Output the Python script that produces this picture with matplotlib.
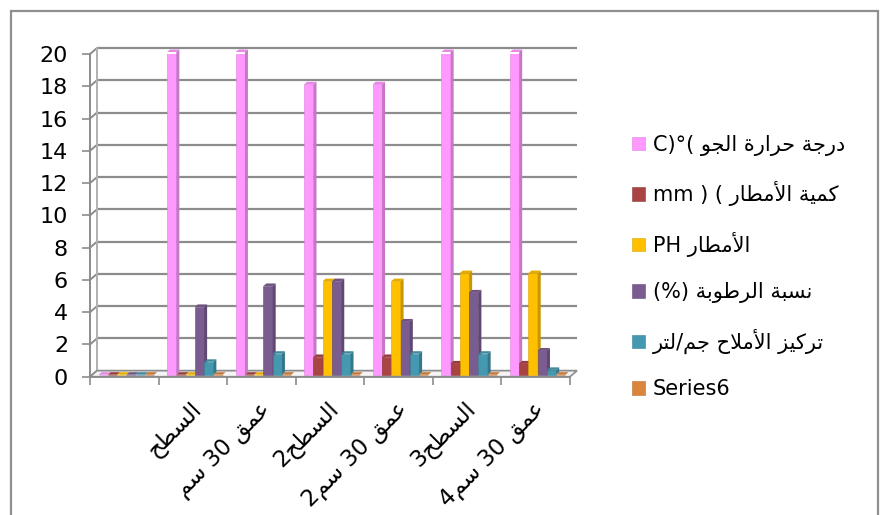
import re
import numpy as np
import matplotlib
matplotlib.use("Agg")
import matplotlib.pyplot as plt
import matplotlib.colors as mcolors
from matplotlib.patches import Polygon, Rectangle
from matplotlib.transforms import ScaledTranslation

plt.rcParams['font.family'] = ['DejaVu Sans']

# ---- data ----
categories = ["", "السطح", "عمق 30 سم", "السطح2", "عمق 30 سم2", "السطح3", "عمق 30 سم4"]
series_names = ["درجة حرارة الجو", "كمية الأمطار", "الأمطار", "نسبة الرطوبة",
                "تركيز الأملاح جم/لتر", "Series6"]
series_units = ["C)°(", "mm ) (", "PH", "(%)", "", ""]
temp = [0, 20, 20, 18, 18, 20, 20]
rain = [0, 0, 0, 1.1, 1.1, 0.7, 0.7]
rain_ph = [0, 0, 0, 5.8, 5.8, 6.3, 6.3]
humidity = [0, 4.2, 5.5, 5.8, 3.3, 5.1, 1.5]
salts = [0, 0.8, 1.3, 1.3, 1.3, 1.3, 0.3]
series6 = [0, 0, 0, 0, 0, 0, 0]
y_ticks = list(range(0, 21, 2))

series = [temp, rain, rain_ph, humidity, salts, series6]
colors = ['#FF99FF', '#A84442', '#FFC000', '#7A5C91', '#4499B1', '#DB843D']

# ---- minimal arabic shaping (presentation forms) + visual order ----
FORMS = {
    'ا': ('\uFE8D', '\uFE8E', None, None),
    'أ': ('\uFE83', '\uFE84', None, None),
    'ب': ('\uFE8F', '\uFE90', '\uFE91', '\uFE92'),
    'ة': ('\uFE93', '\uFE94', None, None),
    'ت': ('\uFE95', '\uFE96', '\uFE97', '\uFE98'),
    'ج': ('\uFE9D', '\uFE9E', '\uFE9F', '\uFEA0'),
    'ح': ('\uFEA1', '\uFEA2', '\uFEA3', '\uFEA4'),
    'د': ('\uFEA9', '\uFEAA', None, None),
    'ر': ('\uFEAD', '\uFEAE', None, None),
    'ز': ('\uFEAF', '\uFEB0', None, None),
    'س': ('\uFEB1', '\uFEB2', '\uFEB3', '\uFEB4'),
    'ط': ('\uFEC1', '\uFEC2', '\uFEC3', '\uFEC4'),
    'ع': ('\uFEC9', '\uFECA', '\uFECB', '\uFECC'),
    'ق': ('\uFED5', '\uFED6', '\uFED7', '\uFED8'),
    'ك': ('\uFED9', '\uFEDA', '\uFEDB', '\uFEDC'),
    'ل': ('\uFEDD', '\uFEDE', '\uFEDF', '\uFEE0'),
    'م': ('\uFEE1', '\uFEE2', '\uFEE3', '\uFEE4'),
    'ن': ('\uFEE5', '\uFEE6', '\uFEE7', '\uFEE8'),
    'و': ('\uFEED', '\uFEEE', None, None),
    'ي': ('\uFEF1', '\uFEF2', '\uFEF3', '\uFEF4'),
}
LAM_ALEF = {'ا': ('\uFEFB', '\uFEFC'), 'أ': ('\uFEF7', '\uFEF8')}


def shape(text):
    units = []
    i = 0
    while i < len(text):
        c = text[i]
        if c == 'ل' and i + 1 < len(text) and text[i + 1] in LAM_ALEF:
            units.append(('LA', text[i + 1]))
            i += 2
        else:
            units.append((c, None))
            i += 1
    out = []
    for k, (c, a) in enumerate(units):
        prev = units[k - 1][0] if k > 0 else None
        nxt = units[k + 1][0] if k + 1 < len(units) else None
        join_prev = prev in FORMS and FORMS[prev][2] is not None
        if c == 'LA':
            out.append(LAM_ALEF[a][1] if join_prev else LAM_ALEF[a][0])
            continue
        if c not in FORMS:
            out.append(c)
            continue
        iso, fin, ini, med = FORMS[c]
        join_next = ini is not None and (nxt == 'LA' or nxt in FORMS)
        if join_prev and join_next:
            out.append(med)
        elif join_prev:
            out.append(fin)
        elif join_next:
            out.append(ini)
        else:
            out.append(iso)
    return ''.join(out)


def rtl(text):
    tokens = re.findall(r'[0-9A-Za-z.]+|.', shape(text))
    return ''.join(reversed(tokens))


# ---- layout (pixels) ----
W, H = 881, 515
fig = plt.figure(figsize=(W / 100, H / 100), dpi=100)
x0, x1, y0, y1 = 90, 570, 376.7, 54
ax = fig.add_axes([x0 / W, 1 - y0 / H, (x1 - x0) / W, (y0 - y1) / H])
n = len(categories)
ax.set_xlim(0, n)
ax.set_ylim(0, 20)
sx = (x1 - x0) / n
sy = (y0 - y1) / 20

grid_c = '#8C8C8C'
bdx, bdy = 7 / sx, 6 / sy          # back wall offset
fdx, fdy = 2 / sx, 2 / sy          # bar front offset
ddx, ddy = 3 / sx, 2.5 / sy        # bar depth

# floor
ax.add_patch(Polygon([(0, 0), (n, 0), (n + bdx, bdy), (bdx, bdy)], closed=True,
                     facecolor='#F4F4F4', edgecolor=grid_c, lw=1.2,
                     clip_on=False, zorder=1))
# back wall grid and left wall
for v in y_ticks:
    ax.plot([bdx, n + bdx], [v + bdy, v + bdy], color=grid_c, lw=1.6,
            clip_on=False, zorder=0.5, solid_capstyle='butt')
    ax.plot([0, bdx], [v, v + bdy], color=grid_c, lw=1.4, clip_on=False, zorder=0.5)
ax.plot([bdx, bdx], [bdy, 20 + bdy], color='#B0B0B0', lw=1.4, clip_on=False, zorder=0.5)


def shade(c, f):
    r, g, b = mcolors.to_rgb(c)
    if f < 1:
        return (r * f, g * f, b * f)
    return (r + (1 - r) * (f - 1), g + (1 - g) * (f - 1), b + (1 - b) * (f - 1))


ns = len(series)
w = 0.135
centers = np.arange(n) + 0.5
for s, (vals, col) in enumerate(zip(series, colors)):
    label = (series_units[s] + " " if series_units[s] else "") + rtl(series_names[s])
    xl = centers - ns * w / 2 + s * w + fdx
    z = 2 + s
    ax.bar(xl, vals, width=w, bottom=fdy, align='edge', color=col,
           edgecolor=shade(col, 0.85), lw=0.4, label=label, zorder=z)
    for xi, v in zip(xl, vals):
        top = fdy + v
        ax.add_patch(Polygon([(xi + w, fdy), (xi + w + ddx, fdy + ddy),
                              (xi + w + ddx, top + ddy), (xi + w, top)],
                             closed=True, facecolor=shade(col, 0.78),
                             edgecolor='none', zorder=z, clip_on=False))
        ax.add_patch(Polygon([(xi, top), (xi + ddx, top + ddy),
                              (xi + w + ddx, top + ddy), (xi + w, top)],
                             closed=True, facecolor=shade(col, 0.9),
                             edgecolor='none', zorder=z, clip_on=False))

# axes styling
for side in ['top', 'right']:
    ax.spines[side].set_visible(False)
ax.spines['left'].set_color(grid_c)
ax.spines['left'].set_linewidth(1.4)
ax.spines['bottom'].set_color(grid_c)
ax.spines['bottom'].set_linewidth(1.2)
ax.set_facecolor('none')

ax.set_yticks(y_ticks)
ax.tick_params(axis='y', length=5.8, width=1.2, color=grid_c, pad=10, labelsize=16)
ax.set_xticks(np.arange(n + 1))
ax.set_xticklabels([])
ax.tick_params(axis='x', which='major', length=6, width=1.2, color=grid_c)
ax.set_xticks(centers, minor=True)
ax.set_xticklabels([rtl(c) for c in categories], minor=True, rotation=45,
                   ha='right', va='center', rotation_mode='anchor', fontsize=16.5)
ax.tick_params(axis='x', which='minor', length=0, pad=21)
for lab in ax.get_xticklabels(minor=True):
    lab.set_transform(lab.get_transform() + ScaledTranslation(6 / 100, 0, fig.dpi_scale_trans))

ax.legend(loc='upper left', bbox_to_anchor=(632 / W, 1 - 135 / H),
          bbox_transform=fig.transFigure, frameon=False, fontsize=15,
          handlelength=0.62, handleheight=0.62, handletextpad=0.38,
          labelspacing=1.22, borderpad=0, borderaxespad=0)

# outer frame
fig.add_artist(Rectangle((11 / W, -0.05), (878 - 11) / W, 1 - 11 / H + 0.05,
                         transform=fig.transFigure, fill=False,
                         edgecolor='#8F8F8F', lw=1.6))

fig.savefig('out.png', dpi=100, facecolor='white')
